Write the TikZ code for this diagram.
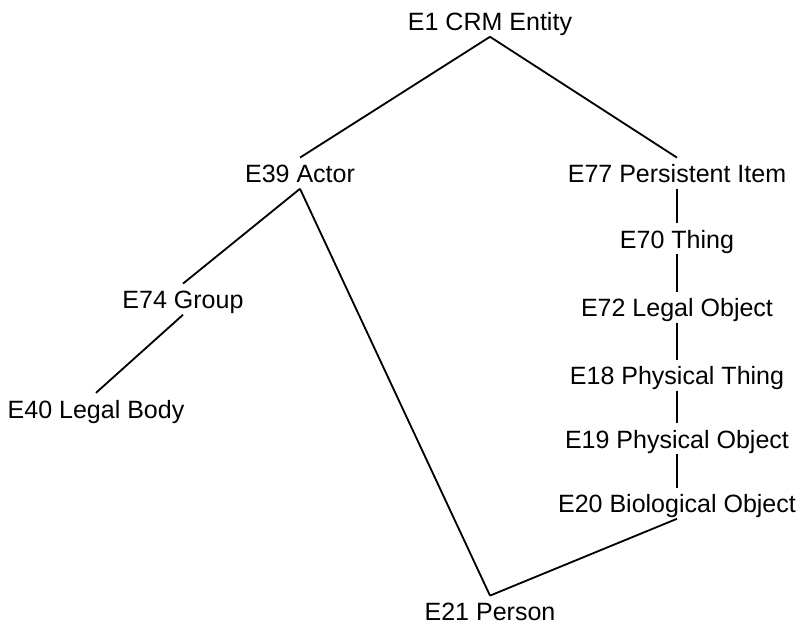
\documentclass[tikz,border=0pt]{standalone}
\usepackage{fontspec}
\setmainfont{Liberation Sans}
\usetikzlibrary{positioning}
\tikzset{
  entity/.style={
    inner xsep=0pt, inner ysep=0pt, text height=0.625cm, text depth=0.14cm,
    font=\fontsize{17.8pt}{21pt}\selectfont
  },
  isa/.style={line width=1.3pt, draw=black}
}
\begin{document}
\begin{tikzpicture}[x=1cm,y=1cm]
    \useasboundingbox (0,0) rectangle (19.95,-15.625);
    \node[entity] (crm) at (12.25,-0.53) {E1 CRM Entity};
    \node[entity] (actor) at (7.5,-4.33) {E39 Actor};
    \node[entity] (persist) at (16.925,-4.33) {E77 Persistent Item};
    \node[entity] (group) at (4.575,-7.48) {E74 Group};
    \node[entity] (legalbody) at (2.4,-10.21) {E40 Legal Body};
    \node[entity] (thing) at (16.925,-5.96) {E70 Thing};
    \node[entity] (legalobj) at (16.925,-7.68) {E72 Legal Object};
    \node[entity] (physthing) at (16.925,-9.38) {E18 Physical Thing};
    \node[entity] (physobj) at (16.925,-10.96) {E19 Physical Object};
    \node[entity] (bioobj) at (16.925,-12.58) {E20 Biological Object};
    \node[entity] (person) at (12.25,-15.28) {E21 Person};

    \draw[isa] (crm.south) -- (actor.north);
    \draw[isa] (crm.south) -- (persist.north);
    \draw[isa] (actor.south) -- (group.north);
    \draw[isa] (group.south) -- (legalbody.north);
    \draw[isa] (actor.south) -- (person.north);
    \draw[isa] (persist.south) -- (thing.north);
    \draw[isa] (thing.south) -- (legalobj.north);
    \draw[isa] (legalobj.south) -- (physthing.north);
    \draw[isa] (physthing.south) -- (physobj.north);
    \draw[isa] (physobj.south) -- (bioobj.north);
    \draw[isa] (bioobj.south) -- (person.north);
  \end{tikzpicture}
\end{document}
